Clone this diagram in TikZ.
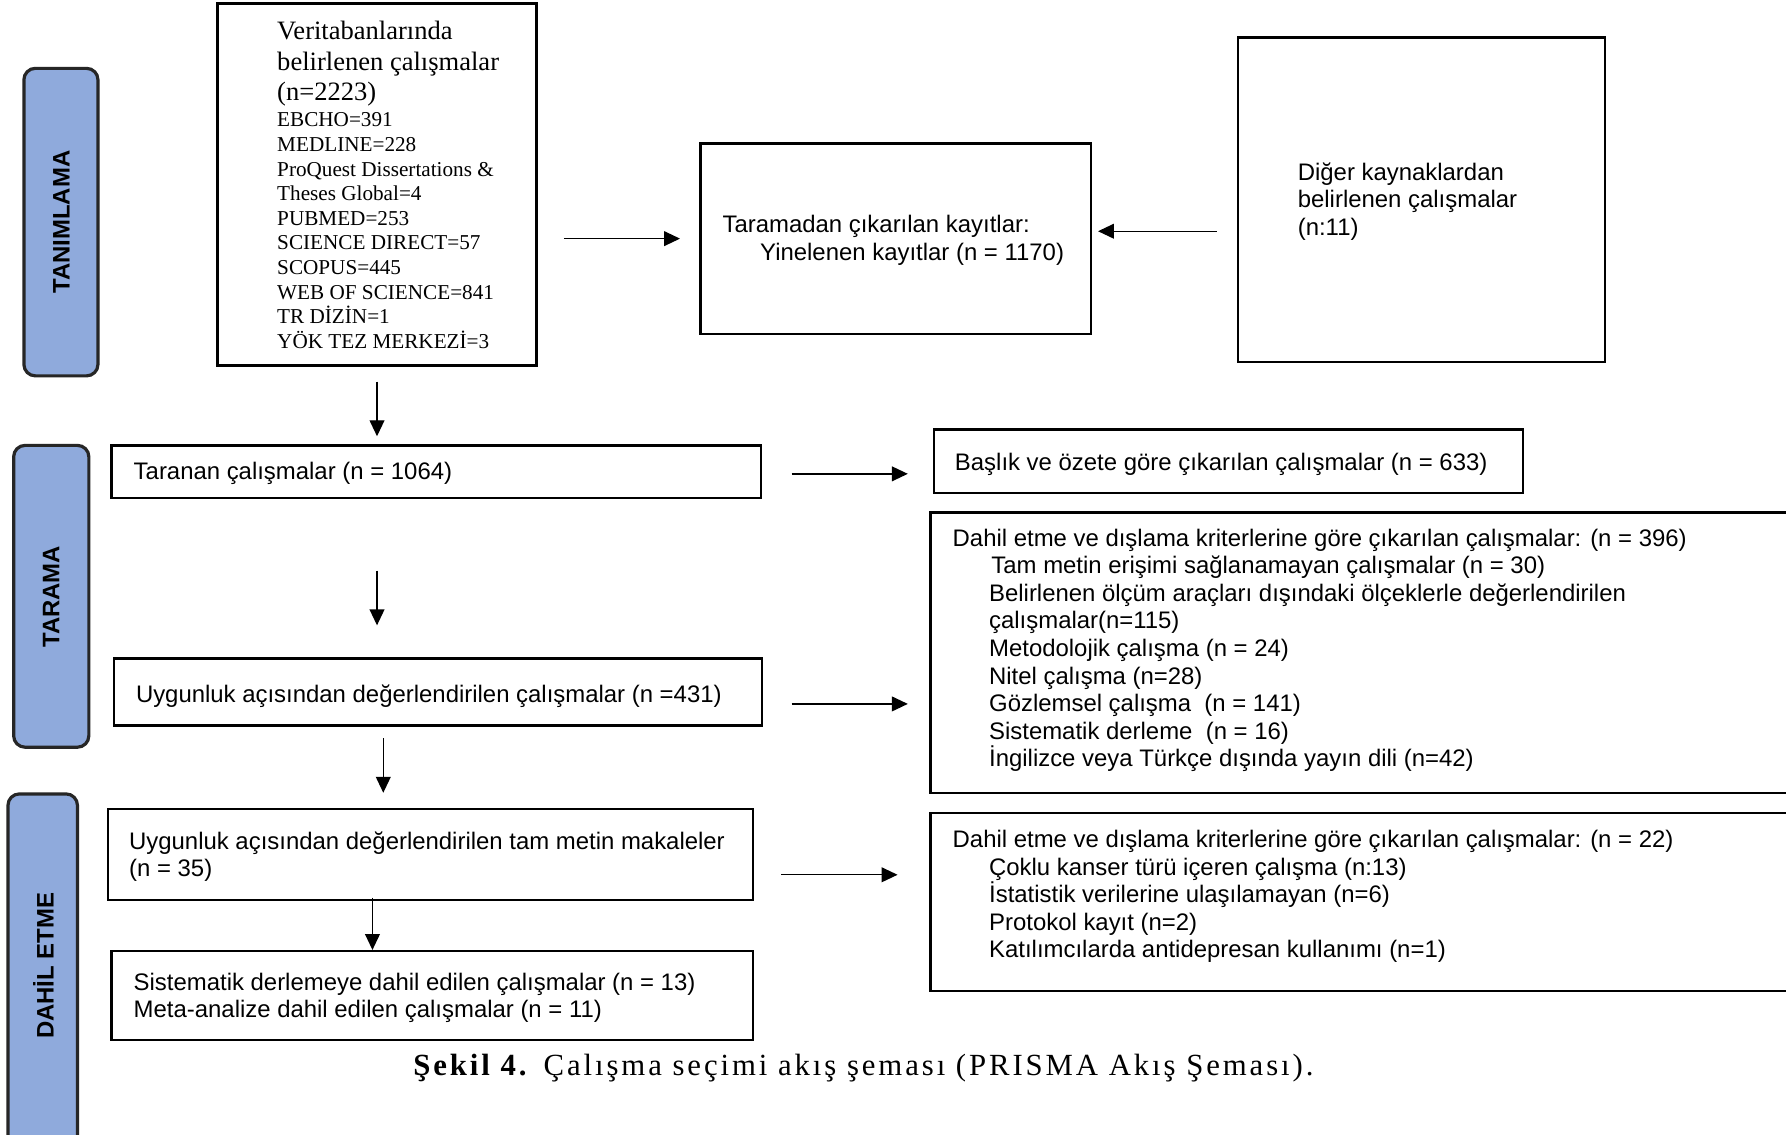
\documentclass[tikz,border=0pt]{standalone}
\usepackage{fontspec}
\setmainfont{Liberation Serif}
\newfontfamily\arialf{Liberation Sans}
\newfontfamily\capfont[LetterSpace=9.5]{Liberation Serif}
\usetikzlibrary{arrows.meta}
\newcommand\sansf{\arialf\fontsize{10.5}{12.1}\selectfont}
\newcommand\serA{\fontsize{11.65}{13.5}\selectfont}
\newcommand\serB{\fontsize{9.3}{10.8}\selectfont}
\newcommand\sidef{\arialf\bfseries\fontsize{10.5}{12}\selectfont}
\definecolor{sideblue}{HTML}{8FAADC}
\tikzset{
  box/.style={draw=black, line width=1pt, rectangle, inner sep=0pt},
  sidebox/.style={draw=black!85, line width=1.4pt, fill=sideblue, rounded corners=5pt, inner sep=0pt},
  txt/.style={inner sep=0pt, align=left, anchor=west, font=\sansf},
  sidetxt/.style={inner sep=0pt, rotate=90, font=\sidef},
  arr/.style={-{Triangle[length=7pt,width=6.5pt]}, line width=0.6pt, black}
}
\begin{document}
\begin{tikzpicture}[x=0.5pt,y=-0.5pt]
\useasboundingbox (0,0) rectangle (1568,996);
\clip (0,0) rectangle (1568,996);
\fill[white] (0,0) rectangle (1568,996);

% side boxes
\node[sidebox, minimum width=32.5pt, minimum height=135pt] (s1) at (53.5,195) {};
\node[sidetxt] (s1t) at (54,195) {TANIMLAMA};
\node[sidebox, minimum width=33pt, minimum height=132.5pt] (s2) at (45,523.5) {};
\node[sidetxt] (s2t) at (45,524) {TARAMA};
\node[sidebox, minimum width=30.5pt, minimum height=156.5pt] (s3) at (37.5,853.5) {};
\node[sidetxt] (s3t) at (38,848) {DAHİL ETME};

% boxes
\node[box, minimum width=140pt, minimum height=159pt] (veri) at (331,162) {};
\node[txt, font=\serA] (veriA) at (243,56) {Veritabanlarında\\belirlenen çalışmalar\\(n=2223)};
\node[txt, font=\serB] (veriB) at (243,202.5) {EBCHO=391\\MEDLINE=228\\ProQuest Dissertations \&\\Theses Global=4\\PUBMED=253\\SCIENCE DIRECT=57\\SCOPUS=445\\WEB OF SCIENCE=841\\TR DİZİN=1\\YÖK TEZ MERKEZİ=3};

\node[box, minimum width=171.5pt, minimum height=83.5pt] (taramadan) at (786.5,209.5) {};
\node[txt] (tarT) at (634,211) {Taramadan çıkarılan kayıtlar:\\\hspace*{16.5pt}Yinelenen kayıtlar (n = 1170)};

\node[box, minimum width=161pt, minimum height=142.5pt] (diger) at (1248,175.5) {};
\node[txt] (digT) at (1139,177) {Diğer kaynaklardan\\belirlenen çalışmalar\\(n:11)};

\node[box, minimum width=285pt, minimum height=23pt] (taranan) at (383,414) {};
\node[txt] (tarnT) at (117,416) {Taranan çalışmalar (n = 1064)};

\node[box, minimum width=258.5pt, minimum height=28pt] (baslik) at (1078.5,405) {};
\node[txt] (basT) at (838,408) {Başlık ve özete göre çıkarılan çalışmalar (n = 633)};

\node[box, minimum width=284.5pt, minimum height=29.5pt] (uygun) at (384.5,607.5) {};
\node[txt] (uygT) at (119,611) {Uygunluk açısından değerlendirilen çalışmalar (n =431)};

\node[box, minimum width=391.5pt, minimum height=123pt] (dahil1) at (1208.5,573) {};
\node[txt] (d1T) at (836,571) {Dahil etme ve dışlama kriterlerine göre çıkarılan çalışmalar: (n = 396)\\
\hspace*{17pt}Tam metin erişimi sağlanamayan çalışmalar (n = 30)\\
\hspace*{16pt}Belirlenen ölçüm araçları dışındaki ölçeklerle değerlendirilen\\
\hspace*{16pt}çalışmalar(n=115)\\
\hspace*{16pt}Metodolojik çalışma (n = 24)\\
\hspace*{16pt}Nitel çalışma (n=28)\\
\hspace*{16pt}Gözlemsel çalışma~ (n = 141)\\
\hspace*{16pt}Sistematik derleme~ (n = 16)\\
\hspace*{16pt}İngilizce veya Türkçe dışında yayın dili (n=42)};

\node[box, minimum width=283pt, minimum height=40pt] (tammetin) at (378,750) {};
\node[txt] (tamT) at (113,752) {Uygunluk açısından değerlendirilen tam metin makaleler\\(n = 35)};

\node[box, minimum width=281.5pt, minimum height=39pt] (sistem) at (379.5,874) {};
\node[txt] (sisT) at (117,876) {Sistematik derlemeye dahil edilen çalışmalar (n = 13)\\Meta-analize dahil edilen çalışmalar (n = 11)};

\node[box, minimum width=391.5pt, minimum height=78pt] (dahil2) at (1208.5,792) {};
\node[txt] (d2T) at (836,787) {Dahil etme ve dışlama kriterlerine göre çıkarılan çalışmalar: (n = 22)\\
\hspace*{16pt}Çoklu kanser türü içeren çalışma (n:13)\\
\hspace*{16pt}İstatistik verilerine ulaşılamayan (n=6)\\
\hspace*{16pt}Protokol kayıt (n=2)\\
\hspace*{16pt}Katılımcılarda antidepresan kullanımı (n=1)};

\node[inner sep=0pt, font={\capfont\fontsize{13.5}{15}\selectfont}] (cap) at (758,938) {\textbf{Şekil 4.} Çalışma seçimi akış şeması (PRISMA Akış Şeması).};

% helper coordinates
\coordinate (c1) at ([yshift=3.25pt]taramadan.east);
\coordinate (c2) at ([yshift=-5.25pt]uygun.east);
\coordinate (c3) at ([yshift=-9pt]tammetin.east);

% connectors
\draw[arr, shorten <=11.5pt, shorten >=8.5pt] (veri.east |- taramadan.west) -- (taramadan.west);
\draw[arr, shorten <=9pt, shorten >=2.5pt] (c1 -| diger.west) -- (c1);
\draw[arr, shorten <=6.5pt, shorten >=3.5pt] (veri.south) -- (veri.south |- taranan.north);
\draw[arr, shorten <=13pt, shorten >=11pt] ([yshift=-1pt]taranan.east) -- ([yshift=-1pt]taranan.east -| baslik.west);
\draw[arr, shorten <=31.5pt, shorten >=14pt] (veri.south |- taranan.south) -- (veri.south |- uygun.north);
\draw[arr, shorten <=12.5pt, shorten >=9.5pt] (c2) -- (c2 -| dahil1.west);
\draw[arr, shorten <=5pt, shorten >=6.5pt] ([xshift=-24pt]uygun.south) -- ([xshift=-24pt]uygun.south |- tammetin.north);
\draw[arr, shorten <=12pt, shorten >=14pt] (c3) -- (c3 -| dahil2.west);
\draw[arr, shorten <=-1.5pt] ([xshift=-25.5pt]tammetin.south) -- ([xshift=-25.5pt]tammetin.south |- sistem.north);
\end{tikzpicture}
\end{document}
